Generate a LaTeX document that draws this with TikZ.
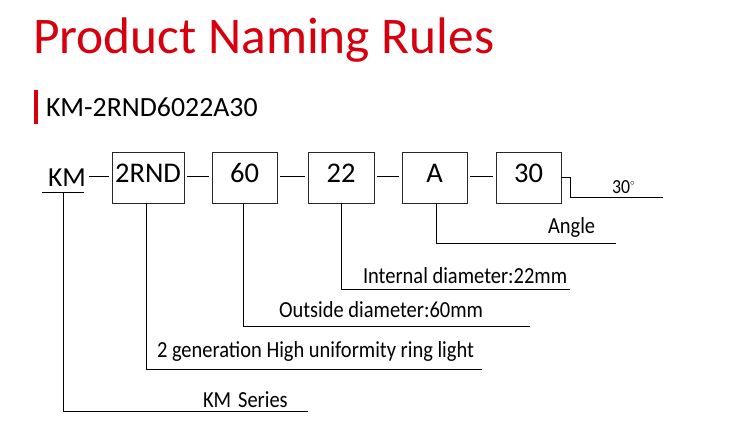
\documentclass[tikz,border=0pt]{standalone}
\usepackage{fontspec}
\setmainfont{Carlito}
\newfontfamily\narrowfont[FakeStretch=0.89]{Carlito}
\definecolor{titlered}{RGB}{214,0,15}
\definecolor{boxline}{RGB}{40,40,40}
\begin{document}
\begin{tikzpicture}[x=1pt,y=-1pt,
  every node/.style={inner sep=0pt,outer sep=0pt},
  box/.style={draw=boxline,line width=1pt,minimum height=51pt,text height=14pt,text depth=5pt,font=\fontsize{28.5}{30}\selectfont},
  lbl/.style={anchor=base west,font=\narrowfont\fontsize{23}{25}\selectfont},
  wire/.style={line width=1pt,black},
  link/.style={line width=1pt,black,shorten <=3pt,shorten >=3pt}]
\useasboundingbox[fill=white] (0,0) rectangle (743,436);
% title
\node[anchor=base west,text=titlered,font=\fontsize{51.4}{53}\selectfont] (title) at (33,53) {Product Naming Rules};
\fill[titlered] (34,90) rectangle (38,124);
\node[anchor=base west,font=\fontsize{27.8}{29}\selectfont] (code) at (46,116) {KM-2RND6022A30};
% row
\node[anchor=base west,font=\fontsize{27.5}{30}\selectfont] (km) at (48,186) {KM};
\coordinate (kmulL) at (42,192);
\coordinate (kmulR) at (84,192);
\coordinate (kmv) at (63,192);
\node[box,minimum width=72pt] (b1) at (148,177.5) {2RND};
\node[box,minimum width=65pt] (b2) at (244.5,177.5) {60};
\node[box,minimum width=66pt] (b3) at (341,177.5) {22};
\node[box,minimum width=65pt] (b4) at (434.5,177.5) {A};
\node[box,minimum width=65pt] (b5) at (528.5,177.5) {30};
% connectors between parts
\draw[wire] (kmulL) -- (kmulR);
\draw[link] (km.east |- 0,176) -- (b1.west |- 0,176);
\draw[link] (b1.east |- 0,176) -- (b2.west |- 0,176);
\draw[link] (b2.east |- 0,176) -- (b3.west |- 0,176);
\draw[link] (b3.east |- 0,176) -- (b4.west |- 0,176);
\draw[link] (b4.east |- 0,176) -- (b5.west |- 0,176);
% leader lines
\coordinate (e5) at (663,197);
\coordinate (k5) at (570,177);
\draw[wire] (b5.east |- k5) -- (k5) |- (e5);
\node[anchor=base west,font=\narrowfont\fontsize{20}{22}\selectfont] (t5) at (612,193) {30\raisebox{8pt}{\fontsize{9}{9}\selectfont$\circ$}};
\coordinate (e4) at (616,243);
\draw[wire] ([xshift=1.5pt]b4.south) |- (e4);
\node[lbl] (t4) at (548,233) {Angle};
\coordinate (e3) at (570,289.5);
\draw[wire] (b3.south) |- (e3);
\node[lbl] (t3) at (363,283) {Internal diameter:22mm};
\coordinate (e2) at (530,326);
\draw[wire] ([xshift=-1.5pt]b2.south) |- (e2);
\node[lbl] (t2) at (279,317) {Outside diameter:60mm};
\coordinate (e1) at (482,369);
\draw[wire] ([xshift=-2pt]b1.south) |- (e1);
\node[lbl] (t1) at (157,357) {2 generation High uniformity ring light};
\coordinate (e0) at (308,411);
\draw[wire] (kmv) |- (e0);
\node[lbl] (t0) at (203,407) {KM\hspace{7pt}Series};
\end{tikzpicture}
\end{document}
